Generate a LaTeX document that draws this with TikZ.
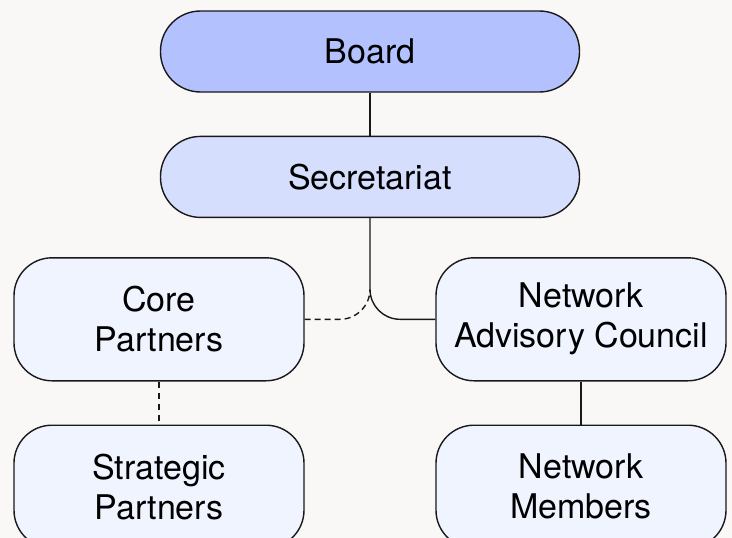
\documentclass[tikz,border=0pt]{standalone}
\usepackage{fontspec}
\setmainfont{TeX Gyre Heros}
\usepackage{xcolor}
\usetikzlibrary{positioning}

\definecolor{paper}{HTML}{F9F8F7}
\definecolor{boardfill}{HTML}{B3C2FE}
\definecolor{secfill}{HTML}{D6DEFE}
\definecolor{unitfill}{HTML}{F0F4FF}

\begin{document}
\begin{tikzpicture}[
  x=1pt, y=1pt,
  font=\fontsize{34}{40}\selectfont,
  pill/.style={rectangle, draw=black!90, line width=1.4pt, rounded corners=40pt, minimum width=419pt, minimum height=81pt, inner sep=0pt},
  unit/.style={rectangle, draw=black!90, line width=1.4pt, rounded corners=38pt, fill=unitfill, align=center, minimum width=290pt, minimum height=123pt, inner sep=0pt},
  link/.style={draw=black!90, line width=1.4pt},
]
\fill[paper] (0,0) rectangle (732,-538);
\useasboundingbox (0,0) rectangle (732,-538);

\node[pill, fill=boardfill] (board) at (370,-51.5) {Board};
\node[pill, fill=secfill, below=43pt of board] (sec) {Secretariat};
\node[unit, below=39pt of sec, xshift=-211pt] (core) {Core\\Partners};
\node[unit, below=39pt of sec, xshift=211pt] (nac) {Network\\Advisory Council};
\node[unit, below=43pt of core] (strat) {Strategic\\Partners};
\node[unit, below=43pt of nac] (members) {Network\\Members};

% where the dotted branch meets the trunk
\path (sec.south |- core.east) ++(0,30) coordinate (fork);

\draw[link] (board) -- (sec);
\draw[link, rounded corners=30pt] (sec.south) |- (nac.west);
\draw[link, dash pattern=on 6pt off 4pt, rounded corners=30pt] (core.east) -| (fork);
\draw[link, dash pattern=on 6pt off 5pt] (core) -- (strat);
\draw[link] (nac) -- (members);
\end{tikzpicture}
\end{document}
